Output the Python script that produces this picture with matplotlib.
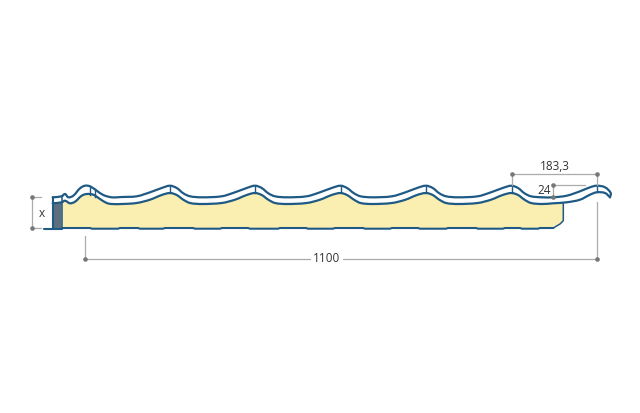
import math
import matplotlib
matplotlib.use("Agg")
import matplotlib.pyplot as plt
from matplotlib.patches import PathPatch
from matplotlib.path import Path

# profile, in picture pixels
top_x = [52.7, 61.7, 65, 68.3, 73.3, 80, 85, 90, 96.7, 103.3, 111.7, 122, 136.7, 150, 161.7, 170,
         176.7, 183.3, 190, 201.7, 221.7, 235, 246.7, 255,
         261.7, 268.3, 275, 286.7, 306.7, 320, 331.7, 340.5,
         347, 354, 360.5, 372, 392, 405.5, 417, 426,
         432.7, 439.3, 446, 457.7, 477.7, 491, 502.7, 511.5,
         518, 524.5, 531, 542, 553, 566.7, 580, 590, 596.7, 605, 610.7, 610]
top_y = [198.3, 197.3, 195, 198.3, 196.7, 189.3, 186.7, 187.3, 191.7, 196, 198.3, 198, 197.3, 193.3, 189, 186.7,
         189, 194.3, 197.3, 198.3, 197.3, 193.3, 189, 186.7,
         189, 194.3, 197.3, 198.3, 197.3, 193.3, 189, 186.7,
         189, 194.3, 197.3, 198.3, 197.3, 193.3, 189, 186.7,
         189, 194.3, 197.3, 198.3, 197.3, 193.3, 189, 186.7,
         189, 194.3, 197.3, 198.3, 198.3, 196.7, 192.3, 188.3, 186.7, 188.3, 194, 198.3]

under_x = [52.7, 61.7, 65, 70, 75, 81.7, 86.7, 93.3, 100, 106.7, 111.7, 122, 136.7, 150, 161.7, 170,
           176.7, 183.3, 190, 201.7, 221.7, 235, 246.7, 255,
           261.7, 268.3, 275, 286.7, 306.7, 320, 331.7, 340.5,
           347, 354, 360.5, 372, 392, 405.5, 417, 426,
           432.7, 439.3, 446, 457.7, 477.7, 491, 502.7, 511.5,
           518, 524.5, 531, 542, 553, 566.7, 580, 590, 596.7, 605, 610]
under_y = [204.3, 203.3, 201.7, 204.3, 202.7, 196.7, 195, 195.7, 200, 204, 205, 205, 204, 200.7, 196, 194,
           196, 200.7, 204, 205, 204, 200.7, 196, 194,
           196, 200.7, 204, 205, 204, 200.7, 196, 194,
           196, 200.7, 204, 205, 204, 200.7, 196, 194,
           196, 200.7, 204, 205, 204, 200.7, 196, 194,
           196, 200.7, 204, 205, 204.3, 203.3, 200.7, 195.7, 193.3, 194, 198.3]

foam_edge_x = [563.3, 563.3, 560, 553.3]
foam_edge_y = [204, 221.7, 225, 229]
base_x = [553.3, 540, 538, 522, 520, 505, 503, 478, 476, 448, 446, 420, 418, 392, 390, 365, 363, 335, 333,
          308, 306, 280, 278, 250, 248, 222, 220, 195, 193, 165, 163, 140, 138, 120, 118, 92, 90, 62]
base_y = [229, 229, 229.7, 229.7, 229, 229, 229.7, 229.7, 229, 229, 229.7, 229.7, 229, 229, 229.7, 229.7, 229, 229, 229.7,
          229.7, 229, 229, 229.7, 229.7, 229, 229, 229.7, 229.7, 229, 229, 229.7, 229.7, 229, 229, 229.7, 229.7, 229, 229]

crest_x = [90, 95, 170, 255, 340.5, 426, 511.5, 596.7]
crest_top = [187.3, 190, 186.7, 186.7, 186.7, 186.7, 186.7, 186.7]
crest_low = [195.5, 197.5, 194, 194, 194, 194, 194, 193.3]

BLUE = "#1f5a85"
FOAM = "#faefb0"
DIM = "#ababab"
DOT = "#77777a"

plt.rcParams["font.family"] = ["Open Sans", "DejaVu Sans"]


def smooth_path(xs, ys):
    # spline through the read points, handles scaled to the segment length
    pts = list(zip(xs, ys))
    verts = [pts[0]]
    codes = [Path.MOVETO]

    def tangent(i):
        a = pts[max(i - 1, 0)]
        b = pts[min(i + 1, len(pts) - 1)]
        d = math.hypot(b[0] - a[0], b[1] - a[1]) or 1
        return (b[0] - a[0]) / d, (b[1] - a[1]) / d

    for i in range(len(pts) - 1):
        p1, p2 = pts[i], pts[i + 1]
        seg = math.hypot(p2[0] - p1[0], p2[1] - p1[1]) / 3
        t1, t2 = tangent(i), tangent(i + 1)
        verts += [(p1[0] + t1[0] * seg, p1[1] + t1[1] * seg),
                  (p2[0] - t2[0] * seg, p2[1] - t2[1] * seg), p2]
        codes += [Path.CURVE4, Path.CURVE4, Path.CURVE4]
    return Path(verts, codes)


fig = plt.figure(figsize=(6.4, 4.14), dpi=100)
ax = fig.add_axes([0, 0, 1, 1])
ax.set_xlim(0, 640)
ax.set_ylim(414, 0)
ax.axis("off")

# foam core
foam_x = [61.7] + under_x[1:53] + foam_edge_x + base_x
foam_y = [229] + under_y[1:53] + foam_edge_y + base_y
ax.fill(foam_x, foam_y, color=FOAM, lw=0, zorder=1)

# grey end block
ax.fill([54, 61.5, 61.5, 54], [204.5, 203.5, 229, 229], color="#5f6e7e", lw=0, zorder=2)

# steel skins
for xs, ys in [(top_x, top_y), (under_x, under_y)]:
    ax.add_patch(PathPatch(smooth_path(xs, ys), fc="none", ec=BLUE, lw=1.6,
                           joinstyle="round", capstyle="round", zorder=3))
kw = dict(color=BLUE, lw=1.5, solid_joinstyle="round", solid_capstyle="round", zorder=3)
ax.plot(foam_edge_x, foam_edge_y, color=BLUE, lw=1.1, zorder=3)
ax.plot(base_x, base_y, **kw)
ax.plot([44, 62], [229.5, 229.5], **kw)
ax.plot([52.7, 52.7], [198.3, 229], **kw)
ax.plot([61.7, 61.7], [197.3, 229], color=BLUE, lw=1.1, zorder=3)
for x, y0, y1 in zip(crest_x, crest_top, crest_low):
    ax.plot([x, x], [y0, y1], color=BLUE, lw=1, zorder=3)


# dimension lines
def dim(xs, ys):
    ax.plot(xs, ys, color=DIM, lw=0.9, zorder=4)


dim([32, 32], [198, 229])
dim([32, 41], [198, 198])
dim([32, 41], [229, 229])
dim([84.5, 84.5], [237, 260])
dim([84.5, 596.5], [260, 260])
dim([596.5, 596.5], [203, 260])
dim([511.5, 596.7], [175, 175])
dim([511.5, 511.5], [175, 186])
dim([596.7, 596.7], [175, 186])
dim([553, 553], [186, 197.5])
dim([553, 585], [186, 186])

dot_x = [32, 32, 84.5, 596.5, 511.5, 596.7, 553, 553]
dot_y = [198, 229, 260, 260, 175, 175, 186, 197.5]
ax.scatter(dot_x, dot_y, s=11, color=DOT, lw=0, zorder=5)

txt = dict(color="#333333", fontsize=8.5, ha="center", va="center", zorder=6)
ax.text(41.5, 213.5, "x", **txt)
ax.text(327, 258.5, "1100", bbox=dict(fc="white", ec="none", pad=1.5), **txt)
ax.text(554.5, 167, "183,3", **txt)
ax.text(544, 191, "24", **txt)

fig.savefig("out.png", dpi=100)
